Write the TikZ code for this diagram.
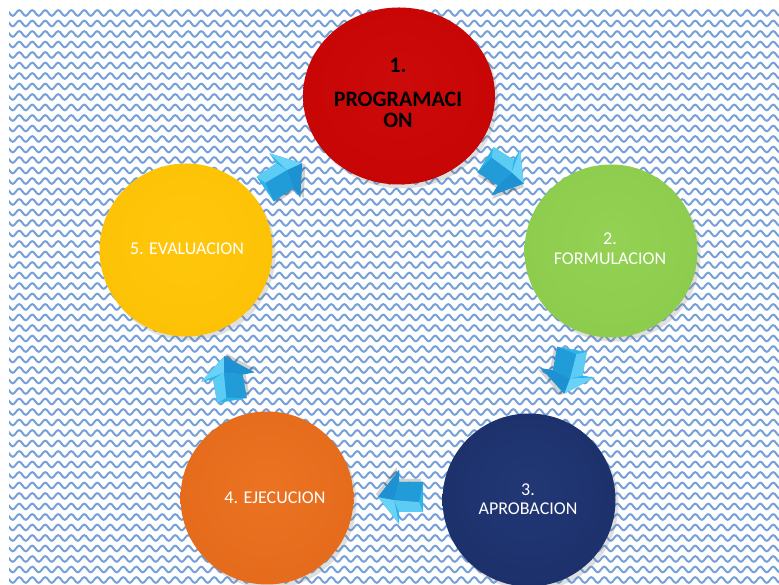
\documentclass[tikz,border=0pt]{standalone}
\usepackage{fontspec}
\setmainfont{Carlito}
\usetikzlibrary{shapes.geometric,shadows}
\pgfdeclareradialshading{redball}{\pgfpoint{0bp}{4bp}}{rgb(0bp)=(0.80,0.04,0.04); rgb(28bp)=(0.78,0.02,0.02); rgb(42bp)=(0.70,0.0,0.0); rgb(50bp)=(0.55,0.0,0.0)}
\pgfdeclareradialshading{greenball}{\pgfpoint{0bp}{4bp}}{rgb(0bp)=(0.58,0.82,0.33); rgb(28bp)=(0.55,0.80,0.30); rgb(42bp)=(0.50,0.74,0.26); rgb(50bp)=(0.42,0.64,0.20)}
\pgfdeclareradialshading{navyball}{\pgfpoint{0bp}{4bp}}{rgb(0bp)=(0.13,0.22,0.46); rgb(28bp)=(0.11,0.19,0.42); rgb(42bp)=(0.08,0.14,0.34); rgb(50bp)=(0.05,0.09,0.25)}
\pgfdeclareradialshading{orangeball}{\pgfpoint{0bp}{4bp}}{rgb(0bp)=(0.92,0.45,0.13); rgb(28bp)=(0.90,0.42,0.11); rgb(42bp)=(0.84,0.37,0.08); rgb(50bp)=(0.74,0.30,0.05)}
\pgfdeclareradialshading{yellowball}{\pgfpoint{0bp}{4bp}}{rgb(0bp)=(1.0,0.78,0.05); rgb(28bp)=(0.99,0.76,0.02); rgb(42bp)=(0.97,0.72,0.0); rgb(50bp)=(0.92,0.64,0.0)}
\definecolor{wavecol}{RGB}{118,160,218}
\definecolor{arrmain}{RGB}{45,180,232}
\definecolor{arrlight}{RGB}{105,210,247}
\definecolor{arrdark}{RGB}{30,145,210}
\tikzset{
  wave/.style={wavecol, line width=2pt},
  ballnode/.style={ellipse, shade, inner sep=0pt, drop shadow={opacity=0.25, shadow xshift=3pt, shadow yshift=-4pt}},
  txtw/.style={text=white, font=\fontsize{18}{21}\selectfont, anchor=base, inner sep=0pt},
  txtb/.style={text=black, font=\fontsize{22}{26}\selectfont\bfseries, anchor=base, inner sep=0pt},
  barrow/.pic={
    \fill[black, opacity=0.18] (-21,-18) -- (3,-18) -- (3,-30) -- (24,-3) -- (3,24) -- (3,12) -- (-21,12) -- cycle;
    \fill[arrmain] (-23,-15) -- (1,-15) -- (1,-27) -- (22,0) -- (1,27) -- (1,15) -- (-23,15) -- cycle;
    \fill[arrlight] (1,27) -- (22,0) -- (6,3) -- cycle;
    \fill[arrdark] (1,-27) -- (22,0) -- (6,3) -- (1,-15) -- cycle;
    \fill[arrlight!80!arrmain] (-23,15) -- (1,15) -- (6,3) -- (-19,5) -- cycle;
    \fill[arrdark!70!arrmain] (-19,5) -- (6,3) -- (1,-15) -- (-23,-15) -- cycle;
  }
}
\begin{document}
\begin{tikzpicture}[x=1pt,y=1pt]
\useasboundingbox (0,0) rectangle (779,585);
\fill[white] (0,0) rectangle (779,585);
\begin{scope}
  \clip (9,0) rectangle (779,577);
  \foreach \r in {0,...,55}{
    \draw[wave] (3,{572-10.5*\r}) \foreach \k in {1,...,61}{ sin ++(3.25,2.8) cos ++(3.25,-2.8) sin ++(3.25,-2.8) cos ++(3.25,2.8) };
  }
\end{scope}
% circles
\node[ballnode, shading=redball, minimum width=192pt, minimum height=177pt] (c1) at (399,489) {};
\node[ballnode, shading=greenball, minimum width=173pt, minimum height=173pt] (c2) at (611,334) {};
\node[ballnode, shading=navyball, minimum width=173pt, minimum height=173pt] (c3) at (529,85) {};
\node[ballnode, shading=orangeball, minimum width=173pt, minimum height=173pt] (c4) at (267,87) {};
\node[ballnode, shading=yellowball, minimum width=173pt, minimum height=173pt] (c5) at (186,335) {};
% texts
\node[txtb] (t1a) at (398,512) {1.};
\node[txtb] (t1b) at (398,478) {PROGRAMACI};
\node[txtb] (t1c) at (398,457) {ON};
\node[txtw] (t2a) at (610,340) {2.};
\node[txtw] (t2b) at (610,320) {FORMULACION};
\node[txtw] (t3a) at (528,89) {3.};
\node[txtw] (t3b) at (528,70) {APROBACION};
\node[txtw] (t4) at (275,81) {4. EJECUCION};
\node[txtw] (t5) at (187,330) {5. EVALUACION};
% arrows
\pic[rotate=35] (a51) at (284,409) {barrow};
\pic[rotate=-32] (a12) at (505,413) {barrow};
\pic[rotate=-100] (a23) at (568,213) {barrow};
\pic[rotate=180] (a34) at (400,88) {barrow};
\pic[rotate=100] (a45) at (228,207) {barrow};
\end{tikzpicture}
\end{document}
